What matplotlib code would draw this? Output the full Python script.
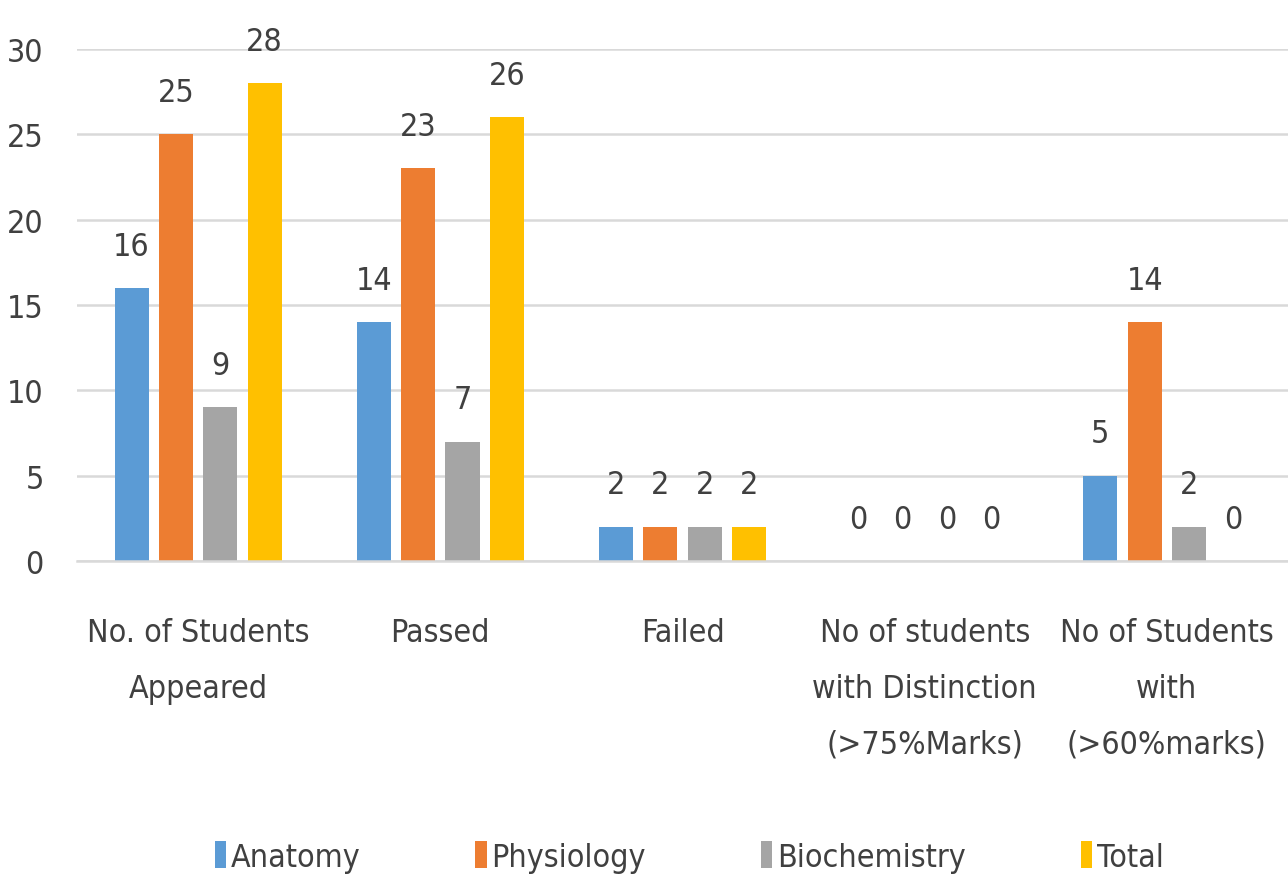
import matplotlib
matplotlib.use("Agg")
import matplotlib.pyplot as plt
import numpy as np

plt.rcParams["font.family"] = ["DejaVu Sans"]
plt.rcParams["font.stretch"] = "condensed"

categories = ["No. of Students\nAppeared", "Passed", "Failed",
              "No of students\nwith Distinction\n(>75%Marks)",
              "No of Students\nwith\n(>60%marks)"]
subjects = ["Anatomy", "Physiology", "Biochemistry", "Total"]
anatomy = [16, 14, 2, 0, 5]
physiology = [25, 23, 2, 0, 14]
biochemistry = [9, 7, 2, 0, 2]
total = [28, 26, 2, 0, 0]

COLOURS = ["#5B9BD5", "#ED7D31", "#A5A5A5", "#FFC000"]
TEXT = "#404040"
GRID = "#d9d9d9"
FS = 23

fig = plt.figure(figsize=(12.88, 8.79), dpi=100)
ax = fig.add_axes([77/1288, 1 - 562/879, 1 - 77/1288, (562 - 50)/879])

positions = np.arange(len(categories))
width = 0.141
step = 0.183
series = [anatomy, physiology, biochemistry, total]
for k, (values, colour, name) in enumerate(zip(series, COLOURS, subjects)):
    offset = (k - 1.5) * step
    bars = ax.bar(positions + offset, values, width, color=colour, label=name)
    for bar, value in zip(bars, values):
        ax.annotate(f"{value}", (bar.get_x() + bar.get_width()/2, value),
                    xytext=(0, 19), textcoords="offset points",
                    ha="center", va="bottom", fontsize=FS, color=TEXT)

ax.set_xlim(-0.5, len(categories) - 0.5)
ax.set_ylim(0, 30)
ax.set_yticks(range(0, 31, 5))
ax.set_xticks(positions)
ax.set_xticklabels(categories, linespacing=2.05)
ax.tick_params(axis="y", length=0, pad=24, labelsize=FS, labelcolor=TEXT)
ax.tick_params(axis="x", length=0, pad=40, labelsize=FS, labelcolor=TEXT)
ax.grid(axis="y", color=GRID, lw=1.8)
ax.set_axisbelow(True)
for side in ("top", "right", "left"):
    ax.spines[side].set_visible(False)
ax.spines["bottom"].set_color(GRID)
ax.spines["bottom"].set_linewidth(1.8)

fig.legend(loc="center", bbox_to_anchor=(0.535, 1 - 858/879), ncol=4,
           frameon=False, fontsize=FS, labelcolor=TEXT,
           handlelength=0.35, handleheight=0.9, handletextpad=0.15,
           columnspacing=3.6)

fig.savefig("out.png", dpi=100)
